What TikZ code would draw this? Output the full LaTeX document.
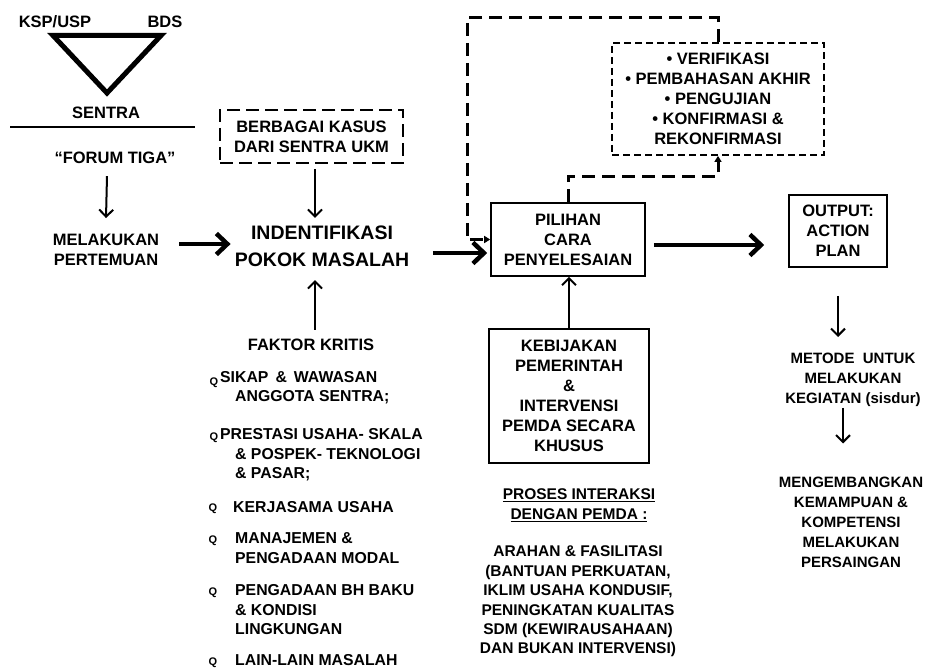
\documentclass[tikz,border=0pt]{standalone}
\usepackage{fontspec}
\setmainfont{Liberation Sans}
\usetikzlibrary{arrows.meta}
\begin{document}
\begin{tikzpicture}[x=1pt,y=-1pt,
  txt/.style={font=\fontsize{16.5}{20}\selectfont\bfseries, align=center, inner sep=0pt},
  smalltxt/.style={txt, font=\fontsize{15}{20}\selectfont\bfseries},
  lst/.style={font=\fontsize{15.8}{19.5}\selectfont\bfseries, align=left, inner sep=0pt, anchor=west},
  bigtxt/.style={font=\fontsize{19.5}{27}\selectfont\bfseries, align=center, inner sep=0pt},
  qb/.style={font=\fontsize{11}{11}\selectfont\bfseries, inner sep=0pt},
  solidbox/.style={txt, draw, line width=1.6pt, minimum width=#1},
  tarr/.style={line width=2pt, -{Straight Barb[length=7pt,width=14pt]}},
  thickarr/.style={line width=4.5pt, -{Straight Barb[length=11pt,width=21pt]}},
  dasharr/.style={line width=3pt, dash pattern=on 13pt off 7pt, -{Triangle[length=6pt,width=7pt]}},
]
\useasboundingbox (0,0) rectangle (925,671);

% top-left triangle
\node[txt] (ksp) at (55,22) {KSP/USP};
\node[txt] (bds) at (165,22) {BDS};
\draw[line width=5pt, line join=miter] (53,35.5) -- (161,35.5) -- (107,93) -- cycle;
\node[txt] (sentra) at (106,113) {SENTRA};
\draw[line width=1.3pt] (10,127) -- (195,127);
\node[txt] (forum) at (115,158) {``FORUM TIGA''};
\node[txt] (melak) at (106,250) {MELAKUKAN\\PERTEMUAN};

% identification
\node[bigtxt] (ident) at (322,246.5) {INDENTIFIKASI\\POKOK MASALAH};
\node[txt, draw, line width=2.5pt, dash pattern=on 13pt off 6pt, minimum width=183pt, minimum height=53pt] (kasus) at (311.5,136.5) {BERBAGAI KASUS\\DARI SENTRA UKM};
\node[txt] (faktor) at (311,345) {FAKTOR KRITIS};

% list of critical factors
\node[qb] (q1) at (214,383) {Q};
\node[lst] (i1) at (220,387.5) {SIKAP \,\&\, WAWASAN\\\hspace*{15pt}ANGGOTA SENTRA;};
\node[qb] (q2) at (214,438) {Q};
\node[lst] (i2) at (220,455) {PRESTASI USAHA- SKALA\\\hspace*{15pt}\& POSPEK- TEKNOLOGI\\\hspace*{15pt}\& PASAR;};
\node[qb] (q3) at (213,509) {Q};
\node[lst] (i3) at (233,507) {KERJASAMA USAHA};
\node[qb] (q4) at (213,541) {Q};
\node[lst] (i4) at (235,548) {MANAJEMEN \&\\PENGADAAN MODAL};
\node[qb] (q5) at (213,593) {Q};
\node[lst] (i5) at (235,610) {PENGADAAN BH BAKU\\\& KONDISI\\LINGKUNGAN};
\node[qb] (q6) at (213,663) {Q};
\node[lst] (i6) at (235,660) {LAIN-LAIN MASALAH};

% middle column
\node[solidbox=154pt, minimum height=73pt] (pilihan) at (568,239.5) {PILIHAN\\CARA\\PENYELESAIAN};
\node[txt, draw, line width=1.8pt, dash pattern=on 7pt off 4pt, minimum width=212pt, minimum height=112pt] (verif) at (718,99)
  {\textbullet\ VERIFIKASI\\\textbullet\ PEMBAHASAN AKHIR\\\textbullet\ PENGUJIAN\\\textbullet\ KONFIRMASI \&\\REKONFIRMASI};
\node[solidbox=160pt, minimum height=134pt] (kebij) at (569,396) {KEBIJAKAN\\PEMERINTAH\\\&\\INTERVENSI\\PEMDA SECARA\\KHUSUS};
\node[txt, font=\fontsize{15.5}{20}\selectfont\bfseries] (proses) at (579,505) {\underline{PROSES INTERAKSI}\\\underline{DENGAN PEMDA :}};
\node[txt, font=\fontsize{15.5}{19.4}\selectfont\bfseries] (arahan) at (578,601.5) {ARAHAN \& FASILITASI\\(BANTUAN PERKUATAN,\\IKLIM USAHA KONDUSIF,\\PENINGKATAN KUALITAS\\SDM (KEWIRAUSAHAAN)\\DAN BUKAN INTERVENSI)};

% right column
\node[solidbox=98pt, minimum height=72pt] (output) at (838,231) {OUTPUT:\\ACTION\\PLAN};
\node[smalltxt] (metode) at (853,380) {METODE\ \ UNTUK\\MELAKUKAN\\KEGIATAN (sisdur)};
\node[smalltxt] (meng) at (851,522) {MENGEMBANGKAN\\KEMAMPUAN \&\\KOMPETENSI\\MELAKUKAN\\PERSAINGAN};

% connectors
\draw[tarr] ([xshift=-8pt,yshift=-12pt]forum.south) -- ([yshift=16pt]melak.north);
\draw[thickarr] ([xshift=20pt,yshift=6pt]melak.east) -- ([xshift=-4pt,yshift=2.5pt]ident.west);
\draw[tarr] ([xshift=3.5pt,yshift=-5pt]kasus.south) -- ([xshift=-7pt,yshift=8pt]ident.north);
\draw[tarr] ([xshift=4pt,yshift=9pt]faktor.north) -- ([xshift=-7pt,yshift=-13pt]ident.south);
\draw[thickarr] ([xshift=23.5pt,yshift=-6.5pt]ident.east) -- ([xshift=-3pt,yshift=-13.5pt]pilihan.west);
\draw[thickarr] ([xshift=8pt,yshift=-5.5pt]pilihan.east) -- ([xshift=-24pt,yshift=-14pt]output.west);
\draw[tarr] (kebij.north) -- (kebij.north |- pilihan.south);
\draw[tarr] ([yshift=-28pt]output.south) -- ([xshift=-15pt,yshift=16pt]metode.north);
\draw[tarr] ([xshift=-10pt,yshift=-1pt]metode.south) -- ([xshift=-8pt,yshift=33pt]meng.north);
\draw[dasharr] (verif.north) |- (467,18) |- (pilihan.west);
\draw[dasharr] (pilihan.north) -- ++(0,-26) -| (verif.south);
\end{tikzpicture}
\end{document}
